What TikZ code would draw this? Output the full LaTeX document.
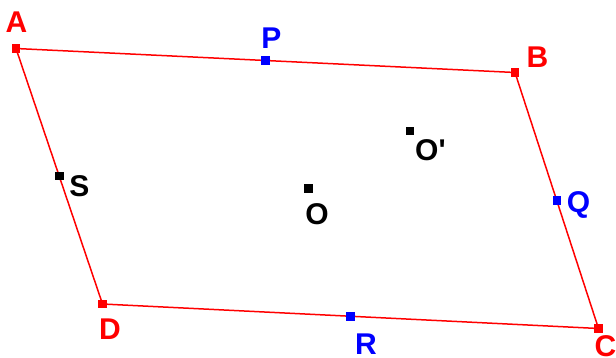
\documentclass[tikz,border=0pt]{standalone}
\usepackage{fontspec}
\setmainfont{Liberation Sans}
\usetikzlibrary{calc}
\begin{document}
\begin{tikzpicture}[x=1pt,y=-1pt,
  side/.style={red,line width=1.5pt},
  mk/.style={rectangle,inner sep=0pt,minimum size=8.5pt,fill=#1},
  lbl/.style={inner sep=0pt,font=\fontsize{30}{32}\selectfont\bfseries,text=#1,text height=21.5pt,text depth=0pt,anchor=center}]
\useasboundingbox (0,0) rectangle (616,358);
\coordinate (A) at (16,48.5);
\coordinate (B) at (515,72.5);
\coordinate (C) at (598.5,328.5);
\coordinate (D) at (102.5,304);
\coordinate (P) at ($(A)!0.5!(B)$);
\coordinate (Q) at ($(B)!0.5!(C)$);
\coordinate (R) at ($(C)!0.5!(D)$);
\coordinate (S) at ($(D)!0.5!(A)$);
\coordinate (O) at (308.5,188.5);
\coordinate (O2) at (410,131);
\draw[side] (A) -- (B) -- (C) -- (D) -- cycle;
\node[mk=red] (Am) at (A) {};
\node[mk=red] (Bm) at (B) {};
\node[mk=red] (Cm) at (C) {};
\node[mk=red] (Dm) at (D) {};
\node[mk=blue] (Pm) at (P) {};
\node[mk=blue] (Qm) at (Q) {};
\node[mk=blue] (Rm) at (R) {};
\node[mk=black] (Sm) at (S) {};
\node[mk=black] (Om) at (O) {};
\node[mk=black] (O2m) at (O2) {};
\node[lbl=red] (Al) at (16.5,22) {A};
\node[lbl=red] (Bl) at (537.5,57) {B};
\node[lbl=red] (Cl) at (605.5,346) {C};
\node[lbl=red] (Dl) at (110,328.5) {D};
\node[lbl=blue] (Pl) at (271.5,38) {P};
\node[lbl=blue] (Ql) at (578.5,202) {Q};
\node[lbl=blue] (Rl) at (366,343.5) {R};
\node[lbl=black] (Sl) at (79.5,185.5) {S};
\node[lbl=black] (Ol) at (317,213.5) {O};
\node[lbl=black,anchor=west] (O2l) at (415,149.5) {O\textquotesingle};
\end{tikzpicture}
\end{document}
